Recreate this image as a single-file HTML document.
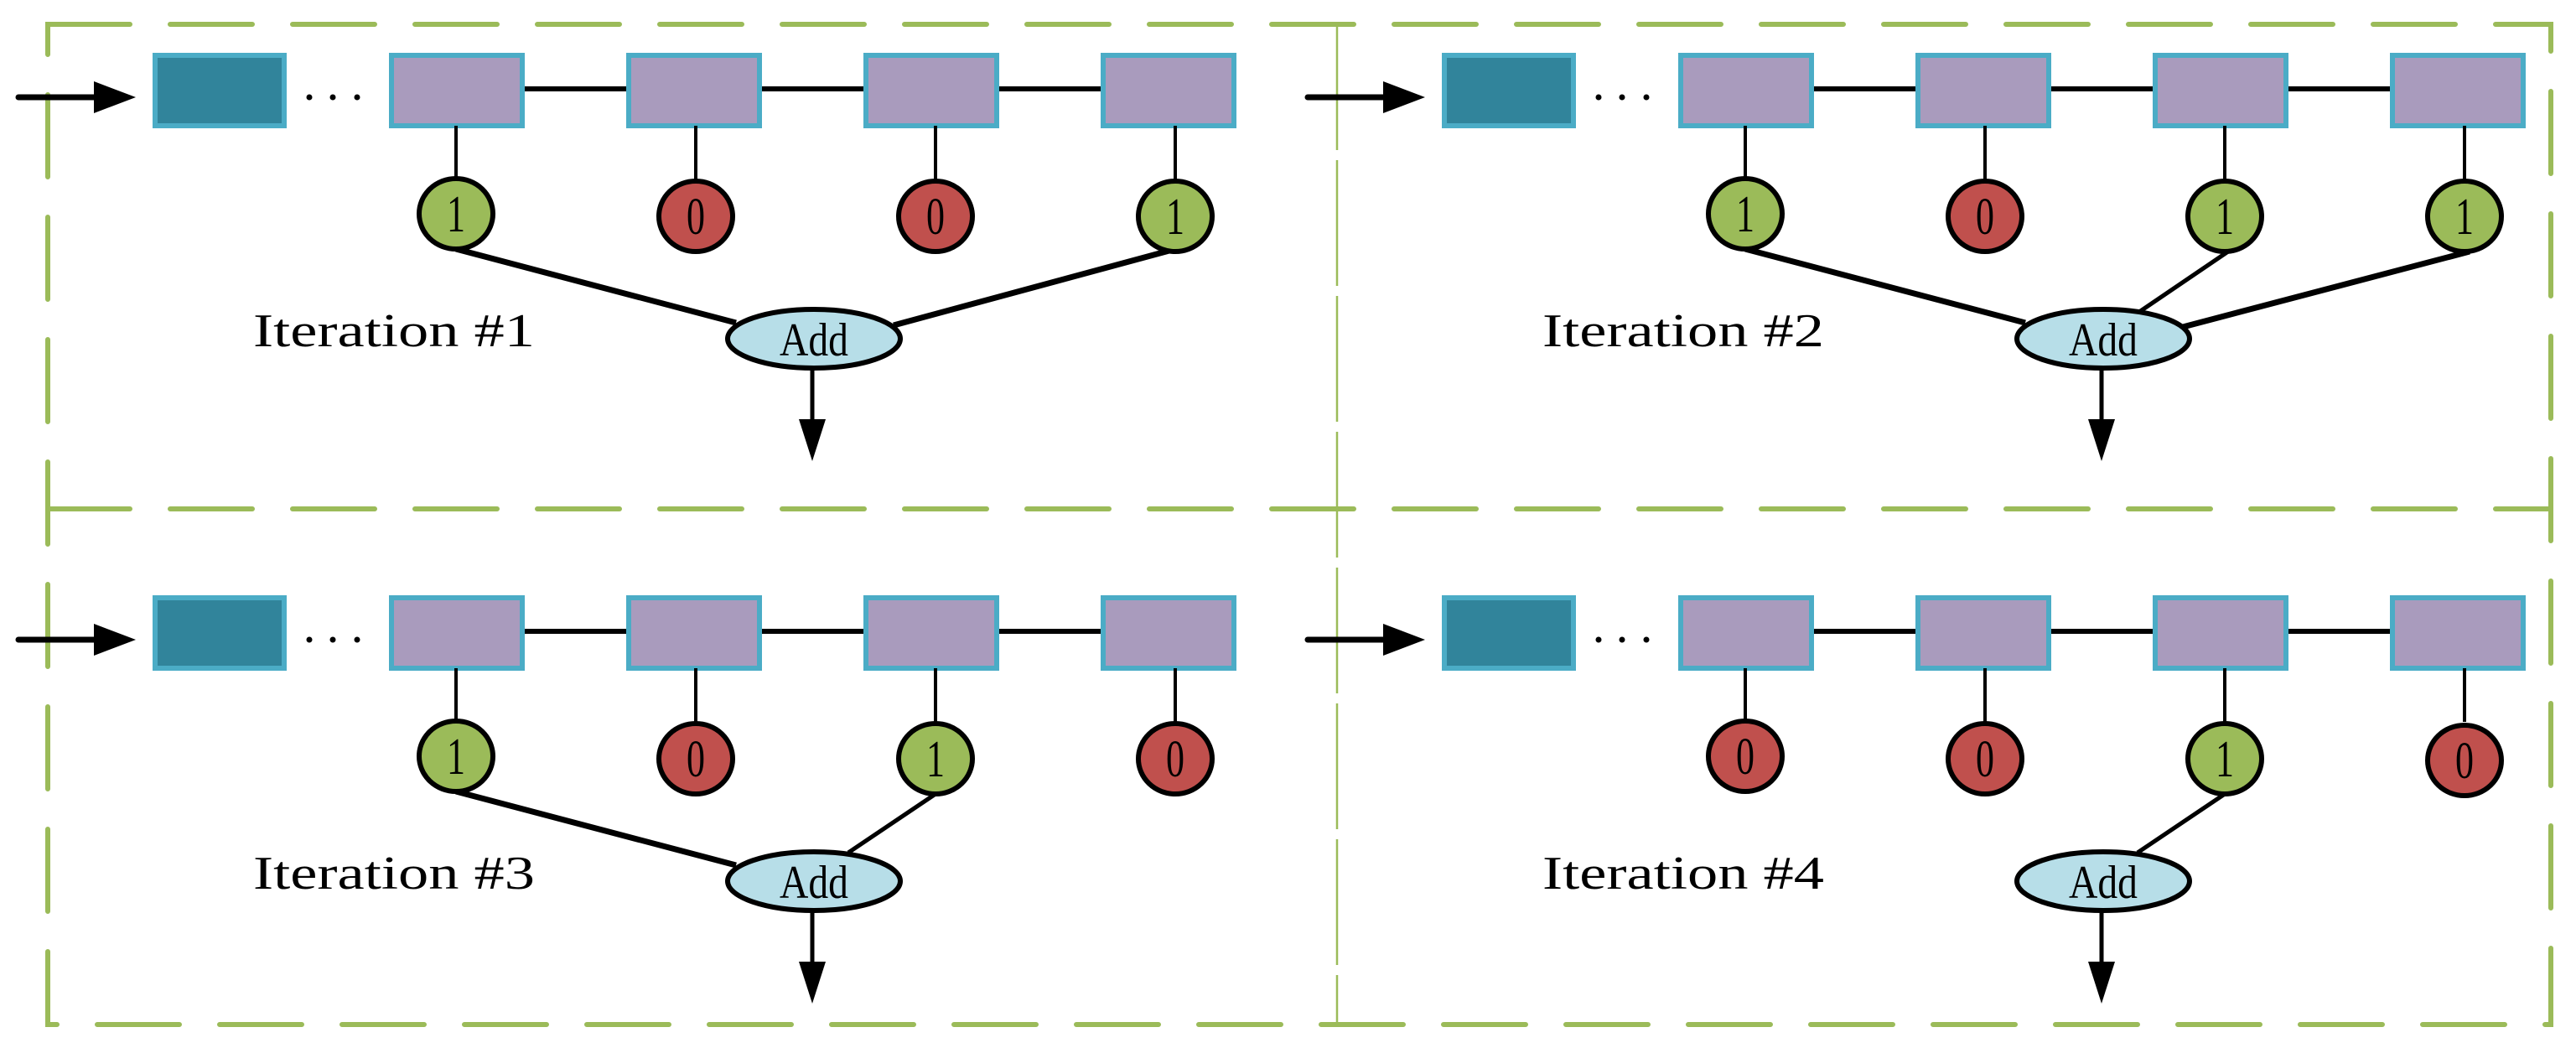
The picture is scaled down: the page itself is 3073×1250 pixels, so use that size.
<!DOCTYPE html>
<html><head><meta charset="utf-8"><style>html,body{margin:0;padding:0;background:#fff}svg{display:block}</style></head>
<body>
<svg width="3073" height="1250" viewBox="0 0 3073 1250" xmlns="http://www.w3.org/2000/svg">
<defs>
<g id="base">
  <line x1="22" y1="116" x2="120" y2="116" stroke="#000" stroke-width="7" stroke-linecap="round"/>
  <polygon points="112,97 162,116 112,135" fill="#000"/>
  <rect x="185" y="66" width="154" height="84" fill="#31849B" stroke="#4BACC6" stroke-width="6"/>
  <circle cx="369" cy="116" r="3.5" fill="#000"/><circle cx="397" cy="116" r="3.5" fill="#000"/><circle cx="426" cy="116" r="3.5" fill="#000"/>
  <line x1="620" y1="106" x2="752" y2="106" stroke="#000" stroke-width="6" stroke-linecap="round"/>
  <line x1="906" y1="106" x2="1036" y2="106" stroke="#000" stroke-width="6" stroke-linecap="round"/>
  <line x1="1190" y1="106" x2="1320" y2="106" stroke="#000" stroke-width="6" stroke-linecap="round"/>
  <rect x="467" y="66" width="156" height="84" fill="#A99BBD" stroke="#4BACC6" stroke-width="6"/>
  <rect x="750" y="66" width="156" height="84" fill="#A99BBD" stroke="#4BACC6" stroke-width="6"/>
  <rect x="1033" y="66" width="156" height="84" fill="#A99BBD" stroke="#4BACC6" stroke-width="6"/>
  <rect x="1316" y="66" width="156" height="84" fill="#A99BBD" stroke="#4BACC6" stroke-width="6"/>
  <line x1="544" y1="150" x2="544" y2="214" stroke="#000" stroke-width="4"/>
  <line x1="830" y1="150" x2="830" y2="214" stroke="#000" stroke-width="4"/>
  <line x1="1116" y1="150" x2="1116" y2="214" stroke="#000" stroke-width="4"/>
  <line x1="1402" y1="150" x2="1402" y2="214" stroke="#000" stroke-width="4"/>
  <line x1="969" y1="440" x2="969" y2="505" stroke="#000" stroke-width="5"/>
  <polygon points="953,500 985,500 969,550" fill="#000"/>
</g>
<g id="addnode">
  <ellipse cx="971" cy="404" rx="103" ry="35" fill="#B7DEE8" stroke="#000" stroke-width="6"/>
  <text x="971" y="424" font-family="Liberation Serif, serif" font-size="56" text-anchor="middle" textLength="82" lengthAdjust="spacingAndGlyphs">Add</text>
</g>
</defs>
<rect x="57" y="29" width="2986" height="1193" fill="none" stroke="#9BBB59" stroke-width="6" stroke-dasharray="98 48" stroke-linecap="round"/>
<line x1="57" y1="607" x2="3043" y2="607" stroke="#9BBB59" stroke-width="6" stroke-dasharray="98 48" stroke-linecap="round"/>
<line x1="1595" y1="29" x2="1595" y2="1222" stroke="#9BBB59" stroke-width="2.5" stroke-dasharray="150 12"/>

<g font-family="Liberation Serif, serif">
<!-- Iteration 1 -->
<g transform="translate(0,0)">
  <use href="#base"/>
  <line x1="544" y1="297" x2="878" y2="385" stroke="#000" stroke-width="7"/>
  <line x1="1402" y1="297" x2="1066" y2="388" stroke="#000" stroke-width="7"/>
  <ellipse cx="544" cy="255" rx="44" ry="42" fill="#9BBB59" stroke="#000" stroke-width="6"/>
  <ellipse cx="830" cy="258" rx="44" ry="42" fill="#C0504D" stroke="#000" stroke-width="6"/>
  <ellipse cx="1116" cy="258" rx="44" ry="42" fill="#C0504D" stroke="#000" stroke-width="6"/>
  <ellipse cx="1402" cy="258" rx="44" ry="42" fill="#9BBB59" stroke="#000" stroke-width="6"/>
  <g font-size="62" text-anchor="middle">
  <text x="544" y="276" textLength="22" lengthAdjust="spacingAndGlyphs">1</text>
  <text x="830" y="279" textLength="22" lengthAdjust="spacingAndGlyphs">0</text>
  <text x="1116" y="279" textLength="22" lengthAdjust="spacingAndGlyphs">0</text>
  <text x="1402" y="279" textLength="22" lengthAdjust="spacingAndGlyphs">1</text>
  </g>
  <use href="#addnode"/>
  <text x="302" y="413" font-size="56" textLength="336" lengthAdjust="spacingAndGlyphs">Iteration #1</text>
</g>
<!-- Iteration 2 -->
<g transform="translate(1538,0)">
  <use href="#base"/>
  <line x1="544" y1="297" x2="878" y2="385" stroke="#000" stroke-width="7"/>
  <line x1="1120" y1="300" x2="1014" y2="372" stroke="#000" stroke-width="5"/>
  <line x1="1408" y1="300" x2="1066" y2="390" stroke="#000" stroke-width="7"/>
  <ellipse cx="544" cy="255" rx="44" ry="42" fill="#9BBB59" stroke="#000" stroke-width="6"/>
  <ellipse cx="830" cy="258" rx="44" ry="42" fill="#C0504D" stroke="#000" stroke-width="6"/>
  <ellipse cx="1116" cy="258" rx="44" ry="42" fill="#9BBB59" stroke="#000" stroke-width="6"/>
  <ellipse cx="1402" cy="258" rx="44" ry="42" fill="#9BBB59" stroke="#000" stroke-width="6"/>
  <g font-size="62" text-anchor="middle">
  <text x="544" y="276" textLength="22" lengthAdjust="spacingAndGlyphs">1</text>
  <text x="830" y="279" textLength="22" lengthAdjust="spacingAndGlyphs">0</text>
  <text x="1116" y="279" textLength="22" lengthAdjust="spacingAndGlyphs">1</text>
  <text x="1402" y="279" textLength="22" lengthAdjust="spacingAndGlyphs">1</text>
  </g>
  <use href="#addnode"/>
  <text x="302" y="413" font-size="56" textLength="336" lengthAdjust="spacingAndGlyphs">Iteration #2</text>
</g>
<!-- Iteration 3 -->
<g transform="translate(0,647)">
  <use href="#base"/>
  <line x1="544" y1="297" x2="878" y2="385" stroke="#000" stroke-width="7"/>
  <line x1="1116" y1="300" x2="1012" y2="370" stroke="#000" stroke-width="5"/>
  <ellipse cx="544" cy="255" rx="44" ry="42" fill="#9BBB59" stroke="#000" stroke-width="6"/>
  <ellipse cx="830" cy="258" rx="44" ry="42" fill="#C0504D" stroke="#000" stroke-width="6"/>
  <ellipse cx="1116" cy="258" rx="44" ry="42" fill="#9BBB59" stroke="#000" stroke-width="6"/>
  <ellipse cx="1402" cy="258" rx="44" ry="42" fill="#C0504D" stroke="#000" stroke-width="6"/>
  <g font-size="62" text-anchor="middle">
  <text x="544" y="276" textLength="22" lengthAdjust="spacingAndGlyphs">1</text>
  <text x="830" y="279" textLength="22" lengthAdjust="spacingAndGlyphs">0</text>
  <text x="1116" y="279" textLength="22" lengthAdjust="spacingAndGlyphs">1</text>
  <text x="1402" y="279" textLength="22" lengthAdjust="spacingAndGlyphs">0</text>
  </g>
  <use href="#addnode"/>
  <text x="302" y="413" font-size="56" textLength="336" lengthAdjust="spacingAndGlyphs">Iteration #3</text>
</g>
<!-- Iteration 4 -->
<g transform="translate(1538,647)">
  <use href="#base"/>
  <line x1="1116" y1="300" x2="1012" y2="370" stroke="#000" stroke-width="5"/>
  <ellipse cx="544" cy="255" rx="44" ry="42" fill="#C0504D" stroke="#000" stroke-width="6"/>
  <ellipse cx="830" cy="258" rx="44" ry="42" fill="#C0504D" stroke="#000" stroke-width="6"/>
  <ellipse cx="1116" cy="258" rx="44" ry="42" fill="#9BBB59" stroke="#000" stroke-width="6"/>
  <ellipse cx="1402" cy="260" rx="44" ry="42" fill="#C0504D" stroke="#000" stroke-width="6"/>
  <g font-size="62" text-anchor="middle">
  <text x="544" y="276" textLength="22" lengthAdjust="spacingAndGlyphs">0</text>
  <text x="830" y="279" textLength="22" lengthAdjust="spacingAndGlyphs">0</text>
  <text x="1116" y="279" textLength="22" lengthAdjust="spacingAndGlyphs">1</text>
  <text x="1402" y="281" textLength="22" lengthAdjust="spacingAndGlyphs">0</text>
  </g>
  <use href="#addnode"/>
  <text x="302" y="413" font-size="56" textLength="336" lengthAdjust="spacingAndGlyphs">Iteration #4</text>
</g>
</g>
</svg>
</body></html>
